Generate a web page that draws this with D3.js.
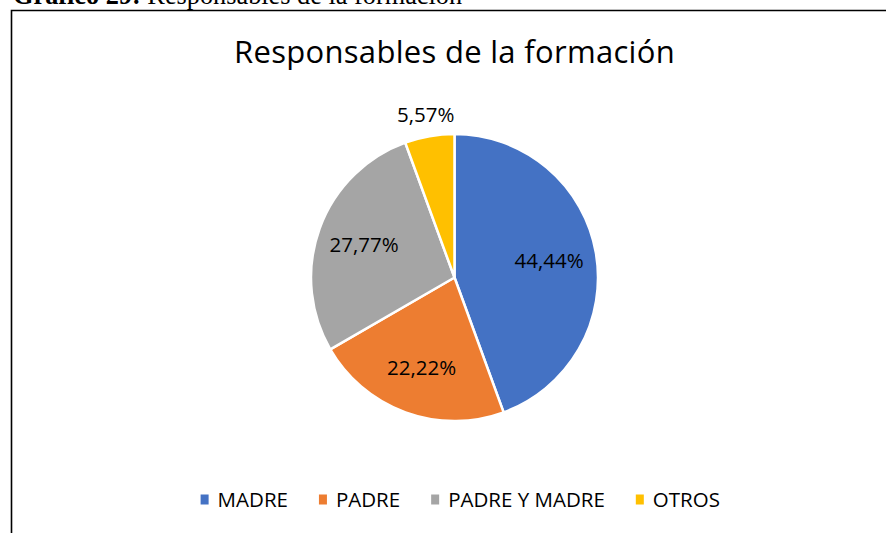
<!DOCTYPE html>
<html>
<head>
  <meta charset="utf-8">
  <title>Responsables de la formación</title>
  <script src="https://cdn.jsdelivr.net/npm/d3@7/dist/d3.min.js"></script>
  <style>
    body { margin: 0; background: #fff; }
  </style>
</head>
<body>
  <div id="chart"></div>
<script>
  // data
  const categories = ["MADRE", "PADRE", "PADRE Y MADRE", "OTROS"];
  const values = [44.44, 22.22, 27.77, 5.57];
  const labels = ["44,44%", "22,22%", "27,77%", "5,57%"];
  const colors = ["#4472C4", "#ED7D31", "#A5A5A5", "#FFC000"];

  const W = 886, H = 533;
  const cx = 454.5, cy = 277.5, r = 143.5;
  // the chart frame goes on past the right edge of the page
  const frameLeft = 11.5, frameRight = 909;
  const sans = "'Open Sans', Lato, sans-serif";

  const svg = d3.select("#chart")
    .append("svg")
      .attr("width", W)
      .attr("height", H);

  svg.append("rect")
    .attr("width", W).attr("height", H)
    .attr("fill", "#fff");

  // caption cut off at the top of the page
  const cap = svg.append("text")
    .attr("x", 13).attr("y", 4)
    .attr("font-family", "'Liberation Serif', 'Times New Roman', serif")
    .attr("font-size", 26.3)
    .attr("fill", "#000");
  cap.append("tspan").attr("font-weight", "bold").text("Gráfico 29:");
  cap.append("tspan").text(" Responsables de la formación");

  // chart frame, runs off the right and bottom edges
  svg.append("path")
    .attr("d", `M${frameLeft},${H + 5} V10.5 H${frameRight}`)
    .attr("fill", "none")
    .attr("stroke", "#000")
    .attr("stroke-width", 1.6);

  svg.append("text")
    .attr("x", cx).attr("y", 63)
    .attr("text-anchor", "middle")
    .attr("font-family", sans)
    .attr("font-size", 31)
    .attr("letter-spacing", 0.3)
    .attr("fill", "#000")
    .text("Responsables de la formación");

  const pie = d3.pie().sort(null).value(d => d)(values);
  const arc = d3.arc().innerRadius(0).outerRadius(r);

  const g = svg.append("g").attr("transform", `translate(${cx},${cy})`);

  g.selectAll("path.slice")
    .data(pie)
    .enter()
    .append("path")
      .attr("class", "slice")
      .attr("d", arc)
      .attr("fill", (d, i) => colors[i])
      .attr("stroke", "#fff")
      .attr("stroke-width", 2.5)
      .attr("stroke-linejoin", "round");

  // small slices get their label outside, like Excel's best fit
  const labelPos = d => {
    const a = (d.startAngle + d.endAngle) / 2;
    const share = (d.endAngle - d.startAngle) / (2 * Math.PI);
    const k = share < 0.1 ? 1.15 : 0.67;
    return [Math.sin(a) * r * k, -Math.cos(a) * r * k];
  };

  g.selectAll("text.lbl")
    .data(pie)
    .enter()
    .append("text")
      .attr("class", "lbl")
      .attr("x", d => labelPos(d)[0])
      .attr("y", d => labelPos(d)[1])
      .attr("dy", "0.35em")
      .attr("text-anchor", "middle")
      .attr("font-family", sans)
      .attr("font-size", 20.5)
      .attr("fill", "#000")
      .text((d, i) => labels[i]);

  // legend
  const legend = svg.append("g").attr("class", "legend");
  const items = legend.selectAll("g")
    .data(categories)
    .enter()
    .append("g");

  items.append("rect")
    .attr("width", 8).attr("height", 10)
    .attr("y", 494.5)
    .attr("fill", (d, i) => colors[i]);

  items.append("text")
    .attr("x", 17)
    .attr("y", 500)
    .attr("dy", "0.35em")
    .attr("font-family", sans)
    .attr("font-size", 20.5)
    .attr("fill", "#000")
    .text(d => d);

  // lay the items out in a row, centered in the frame
  const gap = 31;
  const widths = [];
  items.each(function () {
    widths.push(this.getBBox().width);
  });
  const total = d3.sum(widths) + gap * (widths.length - 1);
  let xPos = (frameLeft + frameRight) / 2 - total / 2;
  items.attr("transform", (d, i) => {
    const t = `translate(${xPos},0)`;
    xPos += widths[i] + gap;
    return t;
  });
</script>
</body>
</html>
